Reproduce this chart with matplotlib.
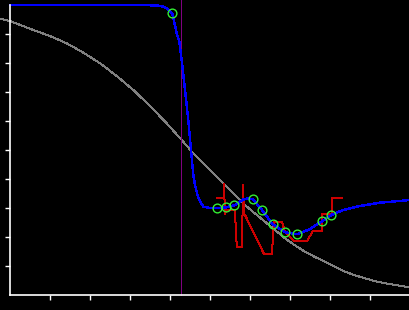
import matplotlib
matplotlib.use("Agg")
import matplotlib.pyplot as plt

# ---- data (data units) ----
gray_x = [-0.25, 0.0, 0.583, 1.0, 1.417, 1.83, 2.25, 2.67, 3.083, 3.5, 3.917, 4.292,
          4.583, 4.875, 5.125, 5.375, 5.625, 5.875, 6.125, 6.375, 6.625, 6.875, 7.125,
          7.375, 7.625, 7.875, 8.125, 8.375, 8.625, 8.875, 9.125, 9.375, 9.7, 10.0]
gray_y = [9.528, 9.448, 9.138, 8.93, 8.679, 8.36, 7.99, 7.55, 7.069, 6.52, 5.921, 5.345,
          4.886, 4.483, 4.14, 3.793, 3.44, 3.103, 2.81, 2.528, 2.24, 1.955, 1.71,
          1.493, 1.31, 1.148, 0.97, 0.803, 0.68, 0.576, 0.48, 0.403, 0.33, 0.266]

blue_x = [0.0, 3.5, 3.7, 3.833, 3.917, 4.057, 4.167, 4.233, 4.292, 4.375, 4.457, 4.525,
          4.583, 4.625, 4.707, 4.833, 5.0, 5.183, 5.408, 5.608, 5.825, 5.95, 6.067,
          6.308, 6.567, 6.883, 7.183, 7.5, 7.808, 8.033, 8.325, 8.75, 9.25, 10.0]
blue_y = [9.99, 9.99, 9.983, 9.941, 9.886, 9.714, 9.034, 8.724, 8.103, 7.069, 6.034, 5.0,
          4.138, 3.793, 3.345, 3.045, 3.0, 2.990, 3.024, 3.093, 3.293, 3.328, 3.310,
          2.921, 2.438, 2.162, 2.093, 2.276, 2.552, 2.759, 2.931, 3.069, 3.183, 3.276]

red_x = [5.167, 5.35, 5.35, 5.375, 5.4, 5.625, 5.65, 5.675, 5.8, 5.825, 5.85, 5.875,
         6.35, 6.55, 6.575, 6.6, 6.8, 6.875, 7.1, 7.425, 7.575, 7.8, 7.8, 8.05, 8.05, 8.3]
red_y = [3.345, 3.345, 3.828, 2.793, 2.931, 2.931, 2.069, 1.655, 1.655, 3.793, 2.759, 2.759,
         1.414, 1.414, 2.069, 2.517, 2.517, 2.172, 1.862, 1.862, 2.207, 2.207, 2.793, 2.793,
         3.345, 3.345]

pts_x = [4.057, 5.183, 5.408, 5.608, 6.067, 6.308, 6.567, 6.883, 7.183, 7.808, 8.033]
pts_y = [9.71, 2.99, 3.02, 3.09, 3.31, 2.92, 2.44, 2.16, 2.09, 2.55, 2.76]

vline_x = 4.275
ticks = [1, 2, 3, 4, 5, 6, 7, 8, 9]

fig = plt.figure(figsize=(4.1, 3.1), dpi=100, facecolor="black")
ax = fig.add_axes([10 / 410, 15 / 310, 400 / 410, 290 / 310], facecolor="black")

ax.plot(gray_x, gray_y, color="#808080", lw=0.72, clip_on=False, antialiased=False)
ax.axvline(vline_x, ymin=0, ymax=1.017, color="#800080", lw=0.72, clip_on=False,
           antialiased=False)
ax.plot(red_x, red_y, color="#cc0000", lw=0.72, antialiased=False)
ax.plot(blue_x, blue_y, color="#0000ff", lw=1.0, antialiased=False, clip_on=False)
ax.plot(pts_x, pts_y, linestyle="none", marker="o", ms=6.3, mfc="none",
        mec="#33ee33", mew=1.0)

ax.set_xlim(0, 10)
ax.set_ylim(0, 10)
ax.set_xticks(ticks)
ax.set_yticks(ticks)
ax.set_xticklabels([])
ax.set_yticklabels([])
ax.tick_params(colors="white", length=3.5, width=1, direction="out")
for s in ["top", "right"]:
    ax.spines[s].set_visible(False)
for s in ["left", "bottom"]:
    ax.spines[s].set_color("white")
    ax.spines[s].set_linewidth(1.2)

fig.savefig("out.png", dpi=100, facecolor="black")
